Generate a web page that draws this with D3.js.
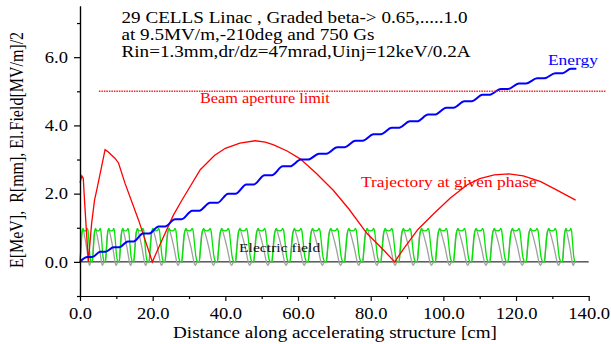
<!DOCTYPE html>
<html>
<head>
<meta charset="utf-8">
<script src="https://cdn.jsdelivr.net/npm/d3@7"></script>
<style>
  body { margin: 0; background: #fff; }
  text { font-family: "Liberation Serif", "Times New Roman", serif; }
</style>
</head>
<body>
<div class="chart-container"></div>
<script>
// cell edges along the structure [cm], 29 cells
const cellEdges = [0, 3.4, 7.0, 10.8, 14.8, 19.0, 23.4, 28.0,
  32.8, 37.8, 42.8, 47.8, 52.8, 57.8, 62.8, 67.8, 72.8, 77.8, 82.8, 87.8,
  92.8, 97.8, 102.8, 107.8, 112.8, 117.8, 122.8, 127.8, 132.8, 136.6];

// beam energy [MeV] at each cell edge
const energyAtEdge = [0, 0.14, 0.30, 0.43, 0.60, 0.83, 1.04, 1.25,
  1.50, 1.73, 2.00, 2.27, 2.54, 2.80, 3.00, 3.17, 3.36, 3.55, 3.74, 3.93,
  4.12, 4.32, 4.52, 4.71, 4.90, 5.07, 5.23, 5.38, 5.53, 5.66];

// field shape inside one cell (position as fraction of cell, value)
const fieldShape = [[0, 0], [0.07, 0.35], [0.15, 0.8], [0.2, 0.94], [0.24, 0.98],
  [0.3, 0.93], [0.42, 0.91], [0.54, 0.93], [0.6, 0.98], [0.65, 0.92],
  [0.72, 0.6], [0.8, 0.2], [0.87, 0.04], [0.93, 0]];
// field seen by the particle inside one cell
const particleField = [[0, 0], [0.05, 0.3], [0.12, 0.75], [0.2, 0.93], [0.27, 0.92],
  [0.35, 0.8], [0.45, 0.6], [0.55, 0.38], [0.65, 0.12], [0.72, -0.05],
  [0.78, -0.1], [0.85, -0.04], [0.92, 0]];

// trajectory radius [mm] vs distance [cm]
const trajZ = [0, 0.5, 0.9, 1.3, 2.3, 3.2, 4.0, 4.6, 5.8, 6.9, 7.8, 8.8, 9.6, 10.6,
  12.4, 16.1, 19.9, 22.0, 25.7, 28.0, 33.1, 37.0, 40.0, 44.0, 48.2, 51.0, 53.3,
  57.0, 60.6, 65.0, 69.7, 74.0, 79.0, 83.6, 86.6, 89.1, 93.0, 97.4, 102.0, 106.6,
  110.0, 114.0, 118.0, 122.0, 126.8, 131.0, 136.4];
const trajR = [2.32, 2.52, 2.45, 1.7, 0, 1.13, 1.81, 2.1, 2.72, 3.29, 3.22, 3.12, 3.04, 2.9,
  2.3, 1.23, 0, 0.5, 1.37, 1.8, 2.7, 3.12, 3.33, 3.48, 3.55, 3.51, 3.43,
  3.25, 3.02, 2.6, 2.1, 1.55, 0.83, 0.34, 0, 0.39, 0.95, 1.42, 1.88, 2.26,
  2.44, 2.55, 2.58, 2.52, 2.35, 2.12, 1.81];

const apertureLimit = 5.0;
const apertureSpan = [5.2, 144.7];

const xMajor = [0, 20, 40, 60, 80, 100, 120, 140];
const xMinor = [10, 30, 50, 70, 90, 110, 130];
const yMajor = [0, 2, 4, 6];
const yMinor = [-1, 1, 3, 5, 7];

const titleLines = ["29 CELLS Linac , Graded beta-> 0.65,.....1.0",
  "at 9.5MV/m,-210deg and 750 Gs",
  "Rin=1.3mm,dr/dz=47mrad,Uinj=12keV/0.2A"];

const width = 611, height = 344;
const SX = 1.16; // the picture text is a bit wide

const svg = d3.select('.chart-container').append('svg')
    .attr('width', width).attr('height', height);

const x = d3.scaleLinear().domain([0, 140]).range([80, 588.7]);
const y = d3.scaleLinear().domain([-1, 7.5]).range([296, 6]);

function label(px, py, str, size, color, anchor) {
  return svg.append('text')
    .attr('transform', 'translate(' + px + ',' + py + ') scale(' + SX + ',1)')
    .attr('font-size', size)
    .attr('fill', color)
    .attr('text-anchor', anchor || 'start')
    .style('white-space', 'pre')
    .text(str);
}

// build cell curves
function cellCurve(shape) {
  const pts = [];
  for (let i = 0; i < cellEdges.length - 1; i++) {
    const a = cellEdges[i], L = cellEdges[i + 1] - a;
    shape.forEach(s => pts.push([a + s[0] * L, s[1]]));
  }
  pts.push([cellEdges[cellEdges.length - 1], 0]);
  return pts;
}
const fieldPts = cellCurve(fieldShape);
const partPts = cellCurve(particleField);

const energyPts = [];
for (let i = 0; i < cellEdges.length - 1; i++) {
  const a = cellEdges[i], L = cellEdges[i + 1] - a;
  energyPts.push([a, energyAtEdge[i]]);
  energyPts.push([a + 0.6 * L, energyAtEdge[i + 1]]);
}
energyPts.push([cellEdges[cellEdges.length - 1], energyAtEdge[energyAtEdge.length - 1]]);

const trajPts = trajZ.map((z, i) => [z, trajR[i]]);

const smooth = d3.line().x(d => x(d[0])).y(d => y(d[1])).curve(d3.curveMonotoneX);
const straight = d3.line().x(d => x(d[0])).y(d => y(d[1]));

// zero line
svg.append('line')
  .attr('x1', x(0)).attr('x2', x(140)).attr('y1', y(0)).attr('y2', y(0))
  .attr('stroke', '#000').attr('stroke-width', 1);

svg.append('path').attr('d', smooth(partPts))
  .attr('fill', 'none').attr('stroke', '#a0a0a0').attr('stroke-width', 1.3);
svg.append('path').attr('d', smooth(fieldPts))
  .attr('fill', 'none').attr('stroke', '#00e600').attr('stroke-width', 1.3);
svg.append('path').attr('d', straight(trajPts))
  .attr('fill', 'none').attr('stroke', '#ff0000').attr('stroke-width', 1.3);
svg.append('path').attr('d', smooth(energyPts))
  .attr('fill', 'none').attr('stroke', '#0000ff').attr('stroke-width', 2);

// aperture limit (dotted)
svg.append('line')
  .attr('x1', x(apertureSpan[0])).attr('x2', x(apertureSpan[1]))
  .attr('y1', y(apertureLimit)).attr('y2', y(apertureLimit))
  .attr('stroke', '#ff2020').attr('stroke-width', 1.5)
  .attr('stroke-dasharray', '1.5,1');

// axes
const axes = svg.append('g').attr('id', 'axes');
axes.append('g').attr('transform', 'translate(0,296)')
  .call(d3.axisBottom(x).tickValues(xMinor).tickSize(3).tickFormat('').tickSizeOuter(0));
const xAx = axes.append('g').attr('transform', 'translate(0,296)')
  .call(d3.axisBottom(x).tickValues(xMajor).tickSize(5).tickPadding(7)
    .tickFormat(d3.format('.1f')).tickSizeOuter(0));
xAx.selectAll('text').attr('transform', 'scale(' + SX + ',1)');

axes.append('g').attr('transform', 'translate(80,0)')
  .call(d3.axisLeft(y).tickValues(yMinor).tickSize(3).tickFormat('').tickSizeOuter(0));
const yAx = axes.append('g').attr('transform', 'translate(80,0)')
  .call(d3.axisLeft(y).tickValues(yMajor).tickSize(6)
    .tickFormat(d3.format('.1f')).tickSizeOuter(0));
yAx.selectAll('text').attr('x', -12 / SX).attr('transform', 'scale(' + SX + ',1)');

axes.selectAll('text').attr('font-size', 16).attr('fill', '#000')
  .attr('font-family', '"Liberation Serif", "Times New Roman", serif');
axes.selectAll('path, line').attr('stroke', '#000').attr('stroke-width', 1.2);

// texts
titleLines.forEach((t, i) => label(121.5, 22.5 + i * 17, t, 16.5, '#000'));
label(548, 65, 'Energy', 15, '#0000ff');
label(200, 103, 'Beam aperture limit', 14, '#ff0000');
label(361, 187, 'Trajectory at given phase', 15, '#ff0000');
label(239, 252, 'Electric field', 13.5, '#111');
label(335, 338, 'Distance along accelerating structure [cm]', 16.5, '#000', 'middle');

svg.append('text')
  .attr('transform', 'translate(23,150) rotate(-90) scale(1,' + SX + ')')
  .attr('font-size', 16)
  .attr('text-anchor', 'middle')
  .style('white-space', 'pre')
  .text('E[MeV],  R[mm], El.Field[MV/m]/2');
</script>
</body>
</html>
